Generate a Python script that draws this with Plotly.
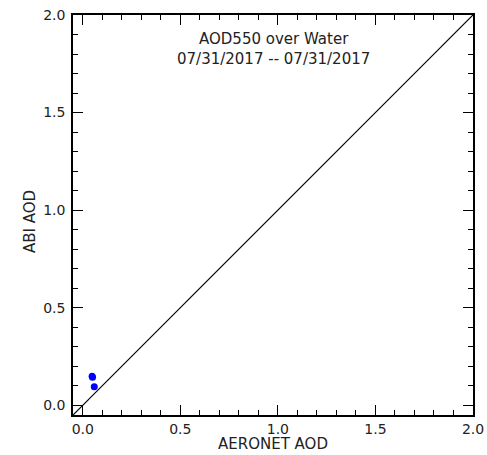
import plotly.graph_objects as go

# Data
aeronet_aod = [0.048, 0.050, 0.059]
abi_aod = [0.149, 0.144, 0.095]

axis_min = -0.05
axis_max = 2.0
tick_vals = [0.0, 0.5, 1.0, 1.5, 2.0]
tick_text = ["0.0", "0.5", "1.0", "1.5", "2.0"]

title_lines = ["AOD550 over Water", "07/31/2017 -- 07/31/2017"]
x_title = "AERONET AOD"
y_title = "ABI AOD"

FONT = "DejaVu Sans"
TXT = "#222222"

fig = go.Figure()

# 1:1 line
fig.add_trace(go.Scatter(
    x=[axis_min, axis_max], y=[axis_min, axis_max],
    mode="lines", line=dict(color="black", width=1.2),
    hoverinfo="skip", showlegend=False,
))

fig.add_trace(go.Scatter(
    x=aeronet_aod, y=abi_aod, mode="markers",
    marker=dict(color="#0000FF", size=7, line=dict(width=0)),
    showlegend=False,
))

axis_common = dict(
    range=[axis_min, axis_max],
    tickvals=tick_vals, ticktext=tick_text,
    ticks="inside", ticklen=10, tickwidth=1, tickcolor="black",
    minor=dict(ticks="inside", ticklen=5, dtick=0.1, tick0=0, tickcolor="black", tickwidth=1),
    showline=True, linecolor="black", linewidth=1.5,
    mirror="allticks", showgrid=False, zeroline=False,
    automargin=False, ticklabeloverflow="allow",
    tickfont=dict(family=FONT, size=14, color=TXT),
)

fig.update_xaxes(**axis_common, ticklabelstandoff=0)
fig.update_yaxes(**axis_common, ticklabelstandoff=3)

fig.add_annotation(
    text="<br>".join(title_lines), xref="paper", yref="paper",
    x=0.5, y=0.916, xanchor="center", yanchor="middle", showarrow=False,
    font=dict(family=FONT, size=15, color=TXT),
)
fig.add_annotation(
    text=x_title, xref="paper", yref="paper",
    x=0.5, y=-0.072, xanchor="center", yanchor="middle", showarrow=False,
    font=dict(family=FONT, size=15, color=TXT),
)
fig.add_annotation(
    text=y_title, xref="paper", yref="paper", textangle=-90,
    x=-0.1075, y=0.4825, xanchor="center", yanchor="middle", showarrow=False,
    font=dict(family=FONT, size=15, color=TXT),
)

fig.update_layout(
    width=487, height=455,
    margin=dict(l=73, r=14, t=15, b=40),
    plot_bgcolor="white", paper_bgcolor="white",
)

# Remove the browser's default body margin so the figure fills the window exactly
fig.write_html(
    "out.html",
    config={"displayModeBar": False},
    post_script="document.body.style.margin='0px';document.body.style.overflow='hidden';",
)
